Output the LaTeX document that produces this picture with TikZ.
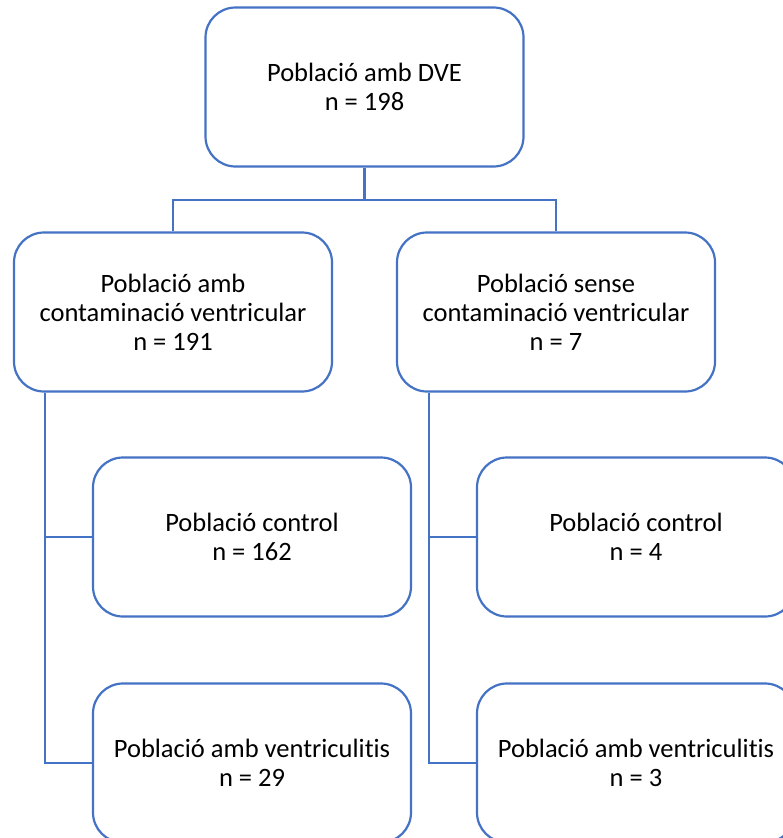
\documentclass[tikz,border=0pt]{standalone}
\usepackage{fontspec}
\setmainfont[Ligatures={NoCommon}]{Carlito}
\definecolor{boxblue}{HTML}{4472C4}
\begin{document}
\begin{tikzpicture}[x=1pt,y=-1pt,
  box/.style={draw=boxblue, line width=2.2pt, rounded corners=30pt,
    minimum width=318pt, minimum height=159pt, align=center,
    inner sep=0pt, font=\fontsize{26.5}{29}\selectfont},
  link/.style={draw=boxblue, line width=2.2pt}]
  \clip (0,0) rectangle (783,838);
  \fill[white] (0,0) rectangle (783,838);

  % level 0
  \node[box] (top) at (364.5,87) {Població amb DVE\\n = 198};

  % level 1
  \node[box] (L) at (173,312) {Població amb\\contaminació ventricular\\n = 191};
  \node[box] (R) at (556,312) {Població sense\\contaminació ventricular\\n = 7};

  % level 2
  \node[box] (LC) at (252,537) {Població control\\n = 162};
  \node[box] (LV) at (252,763) {Població amb ventriculitis\\n = 29};
  \node[box] (RC) at (636,537) {Població control\\n = 4};
  \node[box] (RV) at (636,763) {Població amb ventriculitis\\n = 3};

  % connectors
  \coordinate (split) at (364.5,200);
  \draw[link] (top.south) -- (split);
  \draw[link] (split) -| (L.north);
  \draw[link] (split) -| (R.north);

  \coordinate (Lbus) at ([xshift=32pt]L.south west);
  \coordinate (Rbus) at ([xshift=33pt]R.south west);
  \draw[link] (Lbus) |- (LC.west);
  \draw[link] (Lbus) |- (LV.west);
  \draw[link] (Rbus) |- (RC.west);
  \draw[link] (Rbus) |- (RV.west);
\end{tikzpicture}
\end{document}
